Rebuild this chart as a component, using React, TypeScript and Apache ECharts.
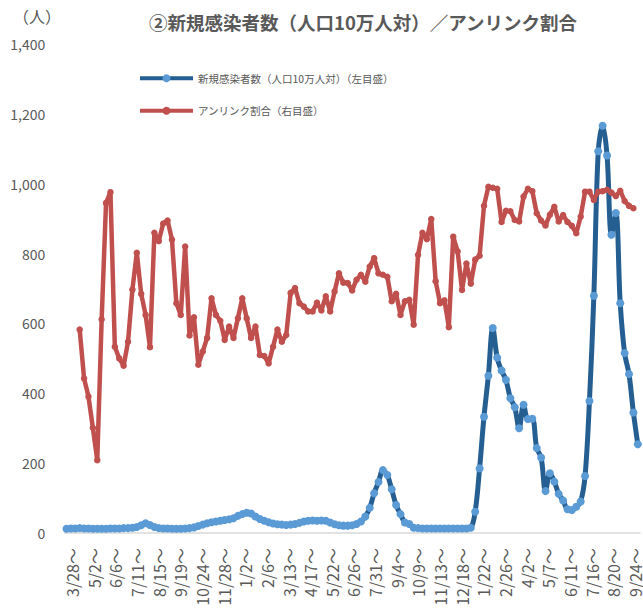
import { useEffect, useRef } from "react";
import * as echarts from "echarts";

// Weekly categories: week starting 3/28/2020, 131 weeks (through 9/24/2022)
const firstWeek = { year: 2020, month: 3, day: 28 };
const weekCount = 131;
const categories: string[] = [];
for (let i = 0; i < weekCount; i++) {
  const d = new Date(firstWeek.year, firstWeek.month - 1, firstWeek.day + 7 * i);
  categories.push(`${d.getMonth() + 1}/${d.getDate()}～`);
}

const yTicks = [0, 200, 400, 600, 800, 1000, 1200, 1400];

const infectionsName = "新規感染者数（人口10万人対）（左目盛）";
const unlinkedName = "アンリンク割合（右目盛）";

// New infections per 100k (left axis)
const infections: number[] = [
  12, 13, 13, 14, 13, 13, 12, 12, 12, 12, 13, 13, 13, 14, 14, 15,
  17, 22, 28, 23, 17, 14, 13, 13, 12, 12, 12, 13,
  14, 16, 20, 24, 28, 31, 33, 35, 37, 39, 42, 49, 54, 58, 56, 47, 40, 35, 31, 27, 25, 24,
  23, 24, 26, 29, 33, 35, 36, 35, 36, 35, 30, 25, 22, 21, 21, 22, 26, 33, 47, 72, 114, 146, 180, 166, 125, 80, 54, 30, 26,
  15, 14, 13, 13, 13, 13, 13, 13, 13, 13, 13, 13, 13, 15,
  61, 185, 333, 450, 587, 502, 465, 438, 386, 360, 300, 367, 326, 327, 243, 216, 120, 171, 147, 112,
  93, 68, 66, 75, 90, 163, 378, 679, 1093, 1166, 1081, 854, 916, 658, 515, 455, 345, 254,
];

// Unlinked ratio (%) (right axis, hidden)
const unlinkedPct: (number | null)[] = [
  null, null, null,
  41.6, 31.6, 27.9, 21.5, 14.9, 43.7, 67.5, 69.7, 38.1, 35.7, 34.2, 39.1, 49.8, 57.3, 48.9, 44.6, 38.0, 61.4, 59.7, 63.3, 63.9, 60.0, 47.0,
  44.6, 58.6, 40.4, 44.1, 34.4, 37.1, 39.9, 48.0, 44.6, 43.4, 39.5, 42.2, 39.9, 43.9, 48.0, 43.9, 39.9, 42.2, 36.4, 36.2, 34.7, 38.1, 41.6, 39.1,
  40.5, 49.1, 50.1, 47.0, 46.3, 45.3, 45.3, 47.1, 45.5, 48.4, 45.3, 49.4, 53.1, 51.2, 51.1, 49.6, 51.8, 52.8, 51.4, 54.5, 56.2, 53.1, 52.8, 52.4, 47.4, 48.9, 44.6, 47.4,
  47.7, 42.6, 56.9, 61.4, 60.1, 64.2, 51.5, 47.0, 47.6, 42.1, 60.6, 57.6, 49.7, 55.1, 51.0, 55.9, 56.7, 66.9, 70.8, 70.6, 70.4, 63.6,
  65.9, 65.8, 64.0, 63.7, 68.8, 70.4, 69.9, 65.4, 63.9, 62.9, 65.1, 66.7, 63.7, 65.0, 63.6, 62.8, 61.3, 64.7, 69.8, 69.8, 68.1, 69.8, 69.9, 70.2, 69.6, 68.9, 70.0, 67.9, 66.9, 66.4,
  null,
];

const FONT = "'Noto Sans CJK JP', 'Noto Sans', sans-serif";
const TEXT = "#595959";

export default function App() {
  const ref = useRef<HTMLDivElement>(null);
  useEffect(() => {
    if (!ref.current) return;
    const chart = echarts.init(ref.current, undefined, { renderer: "svg" });
    const xLabel = {
      interval: 4,
      rotate: 90,
      fontSize: 16,
      color: TEXT,
      margin: 15,
      fontFamily: FONT,
    };
    chart.setOption({
      animation: false,
      backgroundColor: "#ffffff",
      textStyle: { fontFamily: FONT },
      title: {
        text: "②新規感染者数（人口10万人対）／アンリンク割合",
        left: 144,
        top: 8,
        textStyle: { fontSize: 18.5, fontWeight: "bold", color: TEXT, fontFamily: FONT },
      },
      graphic: [
        {
          type: "text",
          left: 13,
          top: 8,
          style: { text: "（人）", fontSize: 16, fill: TEXT, fontFamily: FONT },
        },
      ],
      legend: {
        orient: "vertical",
        left: 133,
        top: 68,
        itemWidth: 53,
        itemHeight: 10,
        itemGap: 22,
        data: [infectionsName, unlinkedName],
        lineStyle: { width: 4 },
        textStyle: { fontSize: 10.5, color: TEXT, fontFamily: FONT },
      },
      grid: [
        { left: 64.3, right: 3, top: 44, bottom: 79, containLabel: false },
        // label-only grid, offset right like the reference's category labels
        { left: 69.8, right: -2.5, top: 44, bottom: 79, containLabel: false },
      ],
      xAxis: [
        {
          type: "category",
          gridIndex: 0,
          data: categories,
          boundaryGap: true,
          axisLine: { show: true, lineStyle: { color: "#D9D9D9", width: 1.5 } },
          axisTick: { show: false },
          splitLine: { show: false },
          axisLabel: { show: false },
        },
        {
          type: "category",
          gridIndex: 1,
          data: categories,
          boundaryGap: true,
          axisLine: { show: false },
          axisTick: { show: false },
          splitLine: { show: false },
          axisLabel: xLabel,
        },
      ],
      yAxis: [
        {
          type: "value",
          gridIndex: 0,
          min: yTicks[0],
          max: yTicks[yTicks.length - 1],
          interval: 200,
          axisLine: { show: false },
          axisTick: { show: false },
          splitLine: { show: false },
          axisLabel: {
            fontSize: 14,
            color: TEXT,
            margin: 19,
            fontFamily: FONT,
            formatter: (v: number) => v.toLocaleString("en-US"),
          },
        },
        {
          type: "value",
          gridIndex: 0,
          show: false,
          min: 0,
          max: 100,
          splitLine: { show: false },
        },
        {
          type: "value",
          gridIndex: 1,
          show: false,
          min: 0,
          max: 1,
          splitLine: { show: false },
        },
      ],
      series: [
        {
          name: infectionsName,
          type: "line",
          xAxisIndex: 0,
          yAxisIndex: 0,
          data: infections,
          smooth: 0.35,
          symbol: "circle",
          symbolSize: 8,
          showAllSymbol: true,
          lineStyle: { color: "#255E91", width: 5 },
          itemStyle: { color: "#5B9BD5" },
          z: 2,
        },
        {
          name: unlinkedName,
          type: "line",
          xAxisIndex: 0,
          yAxisIndex: 1,
          data: unlinkedPct,
          symbol: "circle",
          symbolSize: 6.5,
          showAllSymbol: true,
          connectNulls: false,
          lineStyle: { color: "#C0504D", width: 4.5 },
          itemStyle: { color: "#C0504D" },
          z: 3,
        },
      ],
    });
    return () => chart.dispose();
  }, []);
  return (
    <div
      ref={ref}
      style={{ position: "fixed", left: 0, top: 0, width: 643, height: 612, background: "#fff" }}
    />
  );
}
